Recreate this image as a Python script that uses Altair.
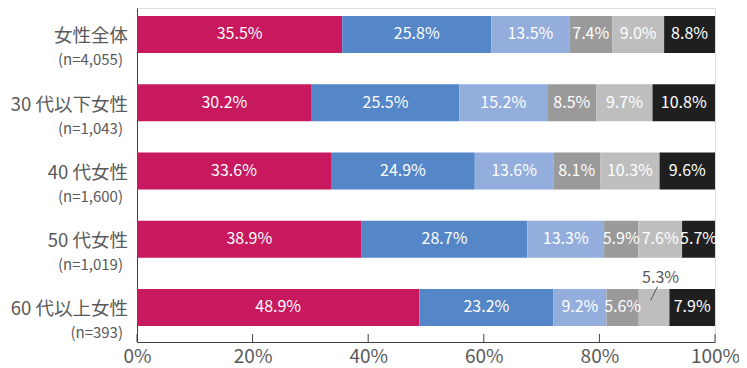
import altair as alt
import pandas as pd

# ---- data ----
categories = ["女性全体", "30 代以下女性", "40 代女性", "50 代女性", "60 代以上女性"]
sample_sizes = ["(n=4,055)", "(n=1,043)", "(n=1,600)", "(n=1,019)", "(n=393)"]
series = ["回答1", "回答2", "回答3", "回答4", "回答5", "回答6"]
seg1 = [35.5, 30.2, 33.6, 38.9, 48.9]
seg2 = [25.8, 25.5, 24.9, 28.7, 23.2]
seg3 = [13.5, 15.2, 13.6, 13.3, 9.2]
seg4 = [7.4, 8.5, 8.1, 5.9, 5.6]
seg5 = [9.0, 9.7, 10.3, 7.6, 5.3]
seg6 = [8.8, 10.8, 9.6, 5.7, 7.9]
# labels drawn outside the bar with a leader line: (row index, series index)
outside = [(4, 4)]
tick_values = [0, 0.2, 0.4, 0.6, 0.8, 1.0]

colors = ["#C8185E", "#5486C8", "#93ADDC", "#9A9A9A", "#BEBEBE", "#1F1F1F"]
FONT = "Noto Sans CJK JP"
GRAY = "#595959"

W, H = 578, 334

segs = [seg1, seg2, seg3, seg4, seg5, seg6]
rows = []
for i, cat in enumerate(categories):
    vals = [s[i] for s in segs]
    total = sum(vals)
    cum = 0.0
    for j, v in enumerate(vals):
        start = cum / total
        cum += v
        end = cum / total
        rows.append({
            "cat": cat, "series": series[j], "order": j,
            "start": start, "end": end, "mid": (start + end) / 2,
            "label": f"{v:.1f}%", "outside": (i, j) in outside,
        })
df = pd.DataFrame(rows)
df_in = df[~df["outside"]]
df_out = df[df["outside"]].copy()
df_out["lx1"] = df_out["mid"] - 0.006
df_out["lx2"] = df_out["mid"] + 0.006

lab = pd.DataFrame({"cat": categories, "n": sample_sizes})
ticks = pd.DataFrame({"t": tick_values})

yscale = alt.Scale(domain=categories, paddingInner=0.458, paddingOuter=0.176, align=0.333)
xscale = alt.Scale(domain=[0, 1])
Y = alt.Y("cat:N", scale=yscale, sort=categories,
          axis=alt.Axis(labels=False, ticks=False, title=None, domainColor="#404040", domainWidth=1))

bars = alt.Chart(df).mark_bar().encode(
    x=alt.X("start:Q", scale=xscale,
            axis=alt.Axis(values=tick_values, format=".0%", title=None, grid=False, ticks=False,
                          labelFontSize=19, labelColor=GRAY, labelFont=FONT, labelPadding=5,
                          labelFlush=False, labelOverlap=False,
                          domainColor="#404040", domainWidth=1)),
    x2="end:Q",
    y=Y,
    color=alt.Color("series:N", scale=alt.Scale(domain=series, range=colors), legend=None),
)

in_text = alt.Chart(df_in).mark_text(color="white", fontSize=16, font=FONT, baseline="middle").encode(
    x=alt.X("mid:Q", scale=xscale), y=Y, text="label:N")

out_text = alt.Chart(df_out).mark_text(color=GRAY, fontSize=16, font=FONT, baseline="middle",
                                        dx=6.5, dy=-29).encode(
    x=alt.X("mid:Q", scale=xscale), y=Y, text="label:N")

leader = alt.Chart(df_out).mark_rule(color=GRAY, strokeWidth=1, yOffset=-7, y2Offset=-21).encode(
    x=alt.X("lx1:Q", scale=xscale), x2="lx2:Q", y=Y, y2="cat:N")

main_lab = alt.Chart(lab).mark_text(align="right", baseline="middle", fontSize=18.5, font=FONT,
                                     color=GRAY, dy=2).encode(
    x=alt.value(-9), y=Y, text="cat:N")
n_lab = alt.Chart(lab).mark_text(align="right", baseline="middle", fontSize=15, font=FONT,
                                  color=GRAY, dy=26).encode(
    x=alt.value(-14), y=Y, text="n:N")

tick_rules = alt.Chart(ticks).mark_rule(color="#404040", strokeWidth=1).encode(
    x=alt.X("t:Q", scale=xscale), y=alt.value(H - 8), y2=alt.value(H))

chart = alt.layer(bars, in_text, out_text, leader, main_lab, n_lab, tick_rules).properties(
    width=W, height=H,
    autosize=alt.AutoSizeParams(type="none"),
    padding={"left": 129, "top": 0, "right": 24, "bottom": 26},
).configure_view(stroke=None).configure(font=FONT)

chart.save("out.html", embed_options={"renderer": "svg", "actions": False})
